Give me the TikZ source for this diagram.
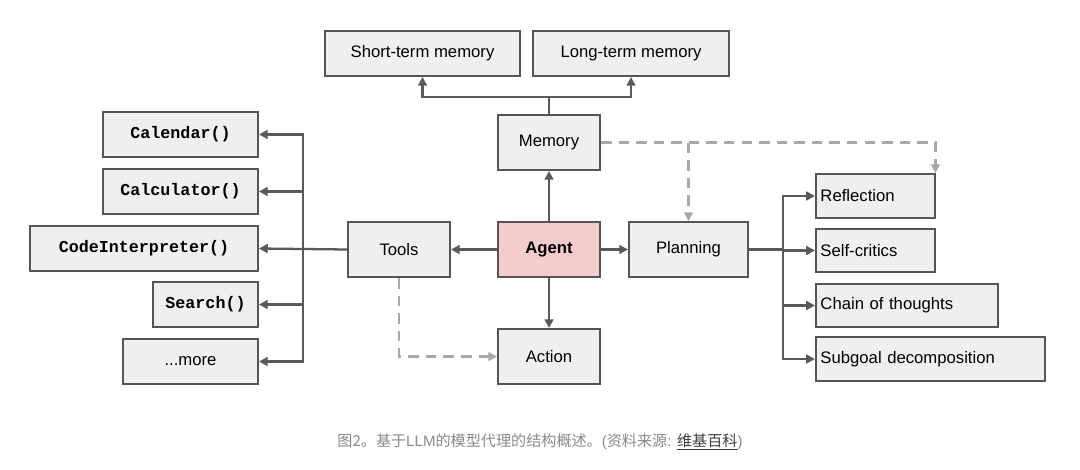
\documentclass[tikz,border=0pt]{standalone}
\usepackage{fontspec}
\setmainfont{Liberation Sans}
\newfontfamily\monob{Liberation Mono}
\newfontfamily\cjk{Noto Sans CJK SC}
\usetikzlibrary{arrows.meta}
\definecolor{boxfill}{HTML}{EFEFEF}
\definecolor{boxline}{HTML}{555555}
\definecolor{agentfill}{HTML}{F4CCCC}
\definecolor{arrcol}{HTML}{595959}
\definecolor{dashcol}{HTML}{A8A8A8}
\definecolor{capcol}{HTML}{8A8A8A}
\begin{document}
\begin{tikzpicture}[x=0.02cm,y=-0.02cm,
  box/.style={draw=boxline,fill=boxfill,line width=1.1pt,inner sep=0pt,font=\fontsize{9.5}{11}\selectfont},
  mono/.style={box,font=\monob\bfseries\fontsize{9.5}{11}\selectfont},
  arr/.style={draw=arrcol,line width=1.3pt,-{Triangle[length=5pt,width=5pt]}},
  ln/.style={draw=arrcol,line width=1.3pt},
  dsh/.style={draw=dashcol,line width=1.3pt,dash pattern=on 6pt off 4pt,-{Triangle[length=5pt,width=5pt]}}]
\useasboundingbox[fill=white] (0,0) rectangle (1080,470);
\node[box,minimum width=3.9cm,minimum height=0.9cm] (stm) at (422.5,53.5) {Short-term memory};
\node[box,minimum width=3.92cm,minimum height=0.9cm] (ltm) at (631,53.5) {Long-term memory};
\node[box,minimum width=2.04cm,minimum height=1.1cm] (mem) at (549,142.5) {Memory};
\node[mono,minimum width=3.1cm,minimum height=0.9cm] (cal) at (180.5,134.5) {Calendar()};
\node[mono,minimum width=3.1cm,minimum height=0.9cm] (calc) at (180.5,191.5) {Calculator()};
\node[mono,minimum width=4.56cm,minimum height=0.9cm] (code) at (144,248.5) {CodeInterpreter()};
\node[mono,minimum width=2.1cm,minimum height=0.9cm] (srch) at (205.5,304.5) {Search()};
\node[box,minimum width=2.7cm,minimum height=0.9cm] (more) at (190.5,361.5) {...more};
\node[box,minimum width=2.04cm,minimum height=1.1cm] (tools) at (399,249.5) {Tools};
\node[box,fill=agentfill,minimum width=2.04cm,minimum height=1.1cm,font=\bfseries\fontsize{9.5}{11}\selectfont] (agent) at (549,249.5) {Agent};
\node[box,minimum width=2.38cm,minimum height=1.1cm] (plan) at (688.5,249.5) {Planning};
\node[box,minimum width=2.04cm,minimum height=1.1cm] (act) at (549,356.5) {Action};
\node[box,minimum width=2.38cm,minimum height=0.88cm,anchor=west,align=left,text width=2.2cm] (refl) at (815,196) {Reflection};
\node[box,minimum width=2.38cm,minimum height=0.86cm,anchor=west,align=left,text width=2.2cm] (self) at (815,250.5) {Self-critics};
\node[box,minimum width=3.64cm,minimum height=0.86cm,anchor=west,align=left,text width=3.46cm] (chain) at (815,305.5) {Chain of thoughts};
\node[box,minimum width=4.58cm,minimum height=0.88cm,anchor=west,align=left,text width=4.4cm] (sub) at (815,359) {Subgoal decomposition};
% memory branches
\coordinate (mj) at (549,97);
\draw[ln] (mem.north) -- (mj);
\draw[arr] (mj) -| (stm.south);
\draw[arr] (mj) -| (ltm.south);
% agent
\draw[arr] (agent.north) -- (mem.south);
\draw[arr] (agent.west) -- (tools.east);
\draw[arr] (agent.east) -- (plan.west);
\draw[arr] (agent.south) -- (act.north);
% tools
\coordinate (tj) at (303,249.5);
\draw[arr] (tools.west) -- (code.east);
\draw[arr] (tj) |- (cal.east);
\draw[arr] (tj) |- (calc.east);
\draw[arr] (tj) |- (srch.east);
\draw[arr] (tj) |- (more.east);
% planning
\coordinate (pj) at (783,249.5);
\draw[ln] (plan.east) -- (pj);
\draw[arr] (pj) |- (refl.west);
\draw[arr] (pj) |- (self.west);
\draw[arr] (pj) |- (chain.west);
\draw[arr] (pj) |- (sub.west);
% dashed
\coordinate (dj) at (mem.east -| plan.north);
\draw[dsh] (mem.east) -| ([xshift=1.2cm]refl.north);
\draw[dsh] (dj) -- (plan.north);
\draw[dsh] (tools.south) |- (act.west);
% caption
\node[text=capcol,font=\fontsize{8.6}{10}\selectfont] (cap) at (540,442) {\cjk 图2。基于\rmfamily LLM\cjk 的模型代理的结构概述。\rmfamily(\cjk 资料来源\rmfamily: \textcolor{black!75}{\underline{\cjk 维基百科}}\rmfamily)};
\end{tikzpicture}
\end{document}
